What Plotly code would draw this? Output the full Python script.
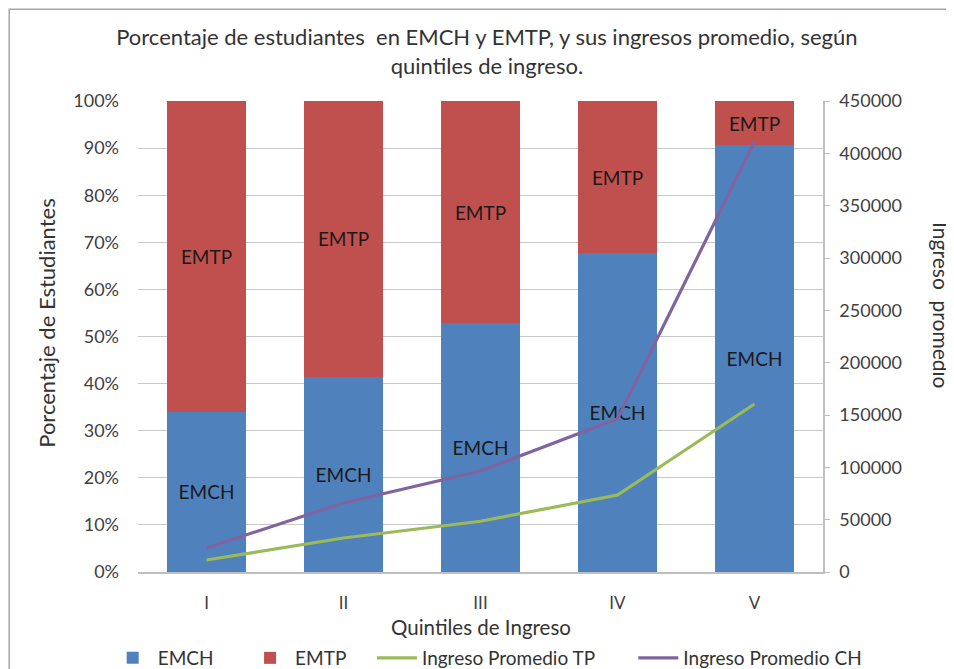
import plotly.graph_objects as go

quintiles = ["I", "II", "III", "IV", "V"]
emch_pct = [34.0, 41.5, 52.8, 67.7, 90.6]
emtp_pct = [100 - v for v in emch_pct]
ingreso_tp = [11500, 32500, 48500, 73500, 160500]
ingreso_ch = [23000, 66000, 96500, 146500, 411000]
pct_ticks = list(range(0, 101, 10))
pct_labels = [f"{v}%" for v in pct_ticks]
ing_ticks = list(range(0, 450001, 50000))

FONT = "Lato, 'Open Sans', sans-serif"
TXT = "#404040"
DARK = "#333333"

fig = go.Figure()
fig.add_trace(go.Bar(
    x=quintiles, y=emch_pct, name="EMCH", marker=dict(color="#4F81BD", line=dict(width=0)),
    text=["EMCH"] * 5, textposition="inside", insidetextanchor="middle",
    textfont=dict(color="#1a1a1a", size=19, family=FONT), width=0.57, legend="legend",
    showlegend=True,
))
fig.add_trace(go.Bar(
    x=quintiles, y=emtp_pct, name="EMTP", marker=dict(color="#C0504D", line=dict(width=0)),
    text=["EMTP"] * 5, textposition="inside", insidetextanchor="middle",
    textfont=dict(color="#1a1a1a", size=19, family=FONT), width=0.57, legend="legend2",
    showlegend=True,
))
fig.add_trace(go.Scatter(
    x=quintiles, y=ingreso_tp, name="Ingreso Promedio TP", mode="lines",
    line=dict(color="#9BBB59", width=3.2), yaxis="y2", legend="legend3", showlegend=True,
))
fig.add_trace(go.Scatter(
    x=quintiles, y=ingreso_ch, name="Ingreso Promedio CH", mode="lines",
    line=dict(color="#8064A2", width=3.2), yaxis="y2", legend="legend4", showlegend=True,
))

def leg(x):
    return dict(
        orientation="h", xref="container", yref="container", x=x, xanchor="left",
        y=0.0284, yanchor="middle", font=dict(size=19, color=DARK), itemwidth=40,
        bgcolor="rgba(0,0,0,0)", visible=True,
    )

fig.update_layout(
    width=954, height=669,
    showlegend=True,
    barmode="stack", bargap=0.43,
    paper_bgcolor="white", plot_bgcolor="white",
    font=dict(family=FONT, color=TXT, size=17),
    margin=dict(l=130, r=139, t=93, b=105),
    title=dict(
        text="Porcentaje de estudiantes  en EMCH y EMTP, y sus ingresos promedio, según<br>quintiles de ingreso.",
        x=0.502, xanchor="center", y=0.944, yanchor="top",
        font=dict(size=22, color=DARK, family=FONT),
    ),
    xaxis=dict(
        showgrid=False, showline=True, linecolor="#BFBFBF", linewidth=1.5,
        ticks="", tickfont=dict(size=17, color=TXT), ticklabelstandoff=15, automargin=False,
    ),
    yaxis=dict(
        range=[0, 100], tickvals=pct_ticks, ticktext=pct_labels,
        showgrid=True, gridcolor="#C8C8C8", gridwidth=1.3, zeroline=False,
        showline=False, ticks="", tickfont=dict(size=18, color=TXT),
        ticklabelstandoff=18, automargin=False,
    ),
    yaxis2=dict(
        overlaying="y", side="right", range=[0, 450000], tickvals=ing_ticks,
        showgrid=False, zeroline=False, showline=True, linecolor="#BFBFBF", linewidth=1.5,
        ticks="outside", ticklen=5, tickcolor="#BFBFBF", tickformat="d",
        tickfont=dict(size=18, color=TXT), ticklabelstandoff=6, automargin=False,
    ),
    legend=leg(0.1045),
    legend2=leg(0.2485),
    legend3=leg(0.3815),
    legend4=leg(0.6555),
    annotations=[
        dict(text="Quintiles de Ingreso", x=0.5, xref="paper", y=-0.117, yref="paper",
             yanchor="middle", showarrow=False, font=dict(size=20.5, color=DARK)),
        dict(text="Porcentaje de Estudiantes", textangle=-90, x=-0.133, xref="paper",
             y=0.529, yref="paper", xanchor="center", yanchor="middle",
             showarrow=False, font=dict(size=22, color=DARK)),
        dict(text="Ingreso  promedio", textangle=90, x=1.172, xref="paper",
             y=0.567, yref="paper", xanchor="center", yanchor="middle",
             showarrow=False, font=dict(size=21, color=DARK)),
    ],
    shapes=[dict(type="rect", xref="paper", yref="paper", x0=-0.188, x1=1.3, y0=-0.3, y1=1.195,
                 line=dict(color="#A6A6A6", width=1.5))],
)
fig.write_html("out.html")
